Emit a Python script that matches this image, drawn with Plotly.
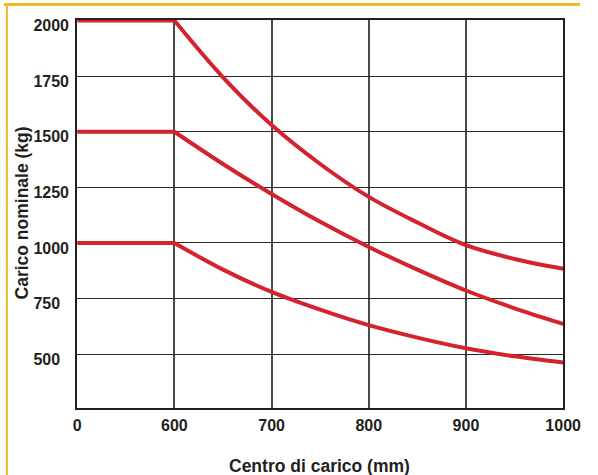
import plotly.graph_objects as go

# ---- data ----
x_tick_mm = [0, 600, 700, 800, 900, 1000]
x_tick_labels = ["0", "600", "700", "800", "900", "1000"]
y_tick_vals = [500, 750, 1000, 1250, 1500, 1750, 2000]
y_tick_labels = ["500", "750", "1000", "1250", "1500", "1750", "2000"]

flat_x_mm = [0, 600]
curve_x_mm = [600, 650, 700, 750, 800, 850, 900, 950, 1000]

cap_2000 = [2000, 1745, 1530, 1355, 1207, 1092, 990, 928, 884]
cap_1500 = [1500, 1355, 1220, 1095, 982, 880, 786, 706, 636]
cap_1000 = [1000, 880, 780, 700, 630, 574, 526, 490, 462]

series = [cap_2000, cap_1500, cap_1000]

x_title = "Centro di carico (mm)"
y_title = "Carico nominale (kg)"


def axis_pos(mm):
    # broken x scale: 0-600 takes the same width as each 100 mm step after it
    return mm / 600.0 if mm <= 600 else 1 + (mm - 600) / 100.0


RED = "#d4222f"
DARK = "#231f20"
FONT = "Liberation Sans, Arial, Helvetica, sans-serif"
W, H = 598, 475

fig = go.Figure()
for s in series:
    fig.add_trace(go.Scatter(
        x=[axis_pos(v) for v in flat_x_mm], y=[s[0], s[0]],
        mode="lines", line=dict(color=RED, width=4), showlegend=False,
        hoverinfo="skip"))
    fig.add_trace(go.Scatter(
        x=[axis_pos(v) for v in curve_x_mm], y=s,
        mode="lines", line=dict(color=RED, width=4, shape="spline", smoothing=1.0),
        showlegend=False))

tick_font = dict(family=FONT, size=16, color=DARK, weight="bold")
title_font = dict(family=FONT, size=17.5, color=DARK, weight="bold")

fig.update_layout(
    width=W, height=H,
    margin=dict(l=0, r=0, t=0, b=0),
    paper_bgcolor="white", plot_bgcolor="white",
    font=dict(family=FONT, size=15, color=DARK, weight="bold"),
    xaxis=dict(
        domain=[76 / W, 580.5 / W],
        range=[0, 5],
        tickvals=[axis_pos(v) for v in x_tick_mm],
        ticktext=x_tick_labels,
        showgrid=True, gridcolor="#4a4a4a", gridwidth=1.5,
        showline=True, linecolor=DARK, linewidth=2, mirror=True,
        zeroline=False, ticks="", ticklabelstandoff=2,
        ticklabeloverflow="allow",
        tickfont=tick_font,
    ),
    yaxis=dict(
        domain=[(H - 407.5) / H, (H - 17) / H],
        range=[258, 2003],
        tickvals=y_tick_vals,
        ticktext=[t + "\u2007" * (4 - len(t)) for t in y_tick_labels],
        showgrid=True, gridcolor="#2a2a2a", gridwidth=1.3,
        showline=True, linecolor=DARK, linewidth=2, mirror=True,
        zeroline=False, ticks="", ticklabelstandoff=3, ticklabelshift=5,
        ticklabeloverflow="allow",
        tickfont=tick_font,
    ),
    annotations=[
        dict(text=x_title, xref="paper", yref="paper", x=328 / W, y=(H - 465.5) / H,
             xanchor="center", yanchor="middle", showarrow=False, font=title_font),
        dict(text=y_title, xref="paper", yref="paper", x=18.5 / W, y=(H - 211) / H,
             xanchor="center", yanchor="middle", showarrow=False, textangle=-90,
             font=title_font),
    ],
    shapes=[
        dict(type="rect", xref="paper", yref="paper", x0=0, x1=1,
             y0=(H - 3) / H, y1=1, fillcolor="#edb823", line=dict(width=0)),
        dict(type="rect", xref="paper", yref="paper", x0=2 / W, x1=4 / W,
             y0=0, y1=1, fillcolor="#edb823", line=dict(width=0)),
    ],
)

post = (
    "document.documentElement.style.margin='0';"
    "document.body.style.margin='0';document.body.style.padding='0';"
    "document.documentElement.style.overflow='hidden';"
    "document.body.style.overflow='hidden';"
)

fig.write_html("out.html", config={"displayModeBar": False}, post_script=post)
